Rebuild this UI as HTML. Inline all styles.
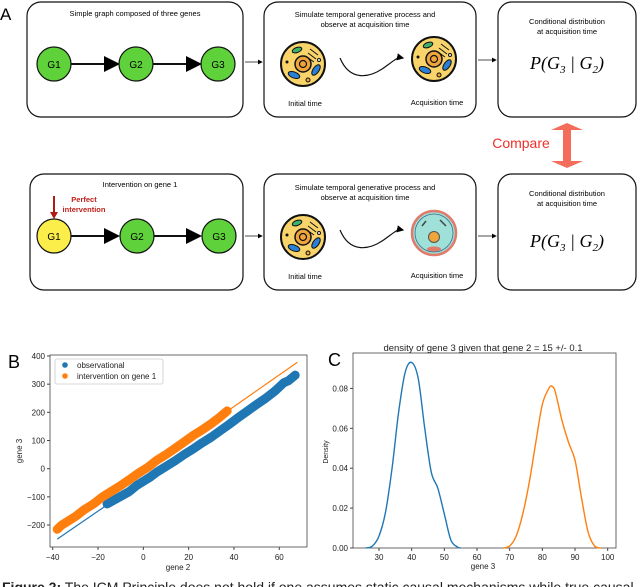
<!DOCTYPE html>
<html><head><meta charset="utf-8"><style>
html,body{margin:0;padding:0;background:#fff;}
svg{display:block;font-family:"Liberation Sans","DejaVu Sans",sans-serif;}
</style></head><body>
<svg id="fig" width="640" height="587" viewBox="0 0 640 587">
<defs>
<marker id="ah" markerWidth="8" markerHeight="8" refX="7" refY="4" orient="auto"><path d="M0,0 L8,4 L0,8z" fill="#000"/></marker>
<marker id="ahs" markerWidth="6" markerHeight="6" refX="5" refY="3" orient="auto"><path d="M0,0 L6,3 L0,6z" fill="#000"/></marker>
<g id="cellY">
<circle r="22" fill="#f9d46b" stroke="#111" stroke-width="2"/>
<circle r="8" fill="#f0a43c" stroke="#111" stroke-width="1.5"/><circle r="3.5" fill="#f0a43c" stroke="#111" stroke-width="1.2"/>
<ellipse cx="-6" cy="-14" rx="5" ry="2.5" fill="#3db06a" stroke="#111" stroke-width="1" transform="rotate(-20 -6 -14)"/>
<ellipse cx="-9" cy="11" rx="6" ry="3" fill="#2a7fd6" stroke="#111" stroke-width="1" transform="rotate(20 -9 11)"/>
<ellipse cx="13" cy="6" rx="6" ry="3" fill="#2a7fd6" stroke="#111" stroke-width="1" transform="rotate(-55 13 6)"/>
<path d="M7,-15 l8,6 M5,-11 l8,6 M4,-7 l7,5" stroke="#111" stroke-width="1"/>
<circle cx="-16" cy="-2" r="1.5" fill="#111"/><circle cx="5" cy="16" r="2" fill="#f0a43c" stroke="#111"/><circle cx="16" cy="-4" r="1.5" fill="#fff" stroke="#111"/>
</g>
</defs>

<text x="0" y="20" font-size="17">A</text>
<g>
<rect x="27" y="2" width="216" height="115" rx="14" fill="none" stroke="#111" stroke-width="1.2"/>
<text x="135" y="16" font-size="7.5" text-anchor="middle">Simple graph composed of three genes</text>
<line x1="71" y1="64" x2="118" y2="64" stroke="#111" stroke-width="2" marker-end="url(#ah)"/>
<line x1="153" y1="64" x2="200" y2="64" stroke="#111" stroke-width="2" marker-end="url(#ah)"/>
<circle cx="54" cy="64" r="17" fill="#5fd13a" stroke="#111" stroke-width="1.2"/>
<circle cx="136" cy="64" r="17" fill="#5fd13a" stroke="#111" stroke-width="1.2"/>
<circle cx="218" cy="64" r="17" fill="#5fd13a" stroke="#111" stroke-width="1.2"/>
<text x="54" y="68" font-size="10" text-anchor="middle">G1</text><text x="136" y="68" font-size="10" text-anchor="middle">G2</text><text x="218" y="68" font-size="10" text-anchor="middle">G3</text>
<line x1="245" y1="62" x2="262" y2="62" stroke="#111" stroke-width="0.8" marker-end="url(#ahs)"/>
<rect x="264" y="2" width="212" height="115" rx="14" fill="none" stroke="#111" stroke-width="1.2"/>
<text x="365" y="17" font-size="7.5" text-anchor="middle">Simulate temporal generative process and</text>
<text x="365" y="27" font-size="7.5" text-anchor="middle">observe at acquisition time</text>
<use href="#cellY" x="303" y="64"/><use href="#cellY" x="434" y="59"/>
<path d="M340,58 C350,82 370,78 385,67 S398,57 403,58" fill="none" stroke="#111" stroke-width="1.2" marker-end="url(#ahs)"/>
<text x="305" y="106" font-size="7.5" text-anchor="middle">Initial time</text>
<text x="437" y="105" font-size="7.5" text-anchor="middle">Acquisition time</text>
<line x1="478" y1="60" x2="496" y2="60" stroke="#111" stroke-width="0.8" marker-end="url(#ahs)"/>
<rect x="498" y="2" width="138" height="115" rx="14" fill="none" stroke="#111" stroke-width="1.2"/>
<text x="567" y="24" font-size="7.5" text-anchor="middle">Conditional distribution</text>
<text x="567" y="34" font-size="7.5" text-anchor="middle">at acquisition time</text>
<text x="567" y="69" font-size="18" text-anchor="middle" font-family="Liberation Serif,serif" font-style="italic">P(G<tspan font-size="11" dy="4">3</tspan><tspan dy="-4"> | G</tspan><tspan font-size="11" dy="4">2</tspan><tspan dy="-4">)</tspan></text>
</g>
<g>
<path d="M567,123 L583,130 L571,130 L571,161 L583,161 L567,168 L551,161 L563,161 L563,130 L551,130 Z" fill="#f46d5a"/>
<text x="521" y="148" font-size="14" fill="#f0302a" text-anchor="middle">Compare</text>
</g>
<g>
<rect x="30" y="174" width="213" height="116" rx="14" fill="none" stroke="#111" stroke-width="1.2"/>
<text x="140" y="187" font-size="7.5" text-anchor="middle">Intervention on gene 1</text>
<text x="84" y="202" font-size="7.5" fill="#c0201a" font-weight="bold" text-anchor="middle">Perfect</text>
<text x="84" y="212" font-size="7.5" fill="#c0201a" font-weight="bold" text-anchor="middle">intervention</text>
<line x1="54" y1="196" x2="54" y2="214" stroke="#b01c14" stroke-width="2"/><path d="M50,212 L54,219 L58,212z" fill="#b01c14"/>
<line x1="71" y1="236" x2="118" y2="236" stroke="#111" stroke-width="2" marker-end="url(#ah)"/>
<line x1="154" y1="236" x2="200" y2="236" stroke="#111" stroke-width="2" marker-end="url(#ah)"/>
<circle cx="54" cy="236" r="17" fill="#fbee4a" stroke="#111" stroke-width="1.2"/>
<circle cx="137" cy="236" r="17" fill="#5fd13a" stroke="#111" stroke-width="1.2"/>
<circle cx="219" cy="236" r="17" fill="#5fd13a" stroke="#111" stroke-width="1.2"/>
<text x="54" y="240" font-size="10" text-anchor="middle">G1</text><text x="137" y="240" font-size="10" text-anchor="middle">G2</text><text x="219" y="240" font-size="10" text-anchor="middle">G3</text>
<line x1="245" y1="236" x2="262" y2="236" stroke="#111" stroke-width="0.8" marker-end="url(#ahs)"/>
<rect x="264" y="174" width="212" height="116" rx="14" fill="none" stroke="#111" stroke-width="1.2"/>
<text x="365" y="190" font-size="7.5" text-anchor="middle">Simulate temporal generative process and</text>
<text x="365" y="200" font-size="7.5" text-anchor="middle">observe at acquisition time</text>
<use href="#cellY" x="303" y="237"/>
<g>
<circle cx="434" cy="233" r="22" fill="#9fe0d8" stroke="#e07a6a" stroke-width="2.5"/>
<circle cx="434" cy="233" r="19" fill="none" stroke="#3a6f8a" stroke-width="0.8"/>
<circle cx="434" cy="237" r="5.5" fill="#f0a43c" stroke="#555"/><ellipse cx="434" cy="249" rx="7" ry="2.5" fill="#e07a6a"/>
<path d="M440,220 l6,6 M426,221 l-4,5" stroke="#444" stroke-width="1.5"/>
</g>
<path d="M340,230 C350,254 370,250 385,239 S398,229 403,230" fill="none" stroke="#111" stroke-width="1.2" marker-end="url(#ahs)"/>
<text x="305" y="279" font-size="7.5" text-anchor="middle">Initial time</text>
<text x="437" y="278" font-size="7.5" text-anchor="middle">Acquisition time</text>
<line x1="478" y1="236" x2="496" y2="236" stroke="#111" stroke-width="0.8" marker-end="url(#ahs)"/>
<rect x="498" y="174" width="138" height="116" rx="14" fill="none" stroke="#111" stroke-width="1.2"/>
<text x="567" y="196" font-size="7.5" text-anchor="middle">Conditional distribution</text>
<text x="567" y="206" font-size="7.5" text-anchor="middle">at acquisition time</text>
<text x="567" y="247" font-size="18" text-anchor="middle" font-family="Liberation Serif,serif" font-style="italic">P(G<tspan font-size="11" dy="4">3</tspan><tspan dy="-4"> | G</tspan><tspan font-size="11" dy="4">2</tspan><tspan dy="-4">)</tspan></text>
</g>

<text x="8" y="368" font-size="18">B</text>
<g id="chartB"></g>
<text x="328" y="366" font-size="18">C</text>
<g id="chartC"></g>
<text x="2" y="592" font-size="14" fill="#222"><tspan font-weight="bold">Figure 2:</tspan> The ICM Principle does not hold if one assumes static causal mechanisms while true causal</text>
</svg>
<script>
// ---- Chart B data ----
const bXTicks=[-40,-20,0,20,40,60];
const bYTicks=[-200,-100,0,100,200,300,400];
const obsX=[-16,-7,-6,-3,0,3,6,10,14,18,22,26,30,34,38,42,46,50,54,58,60,62,64,67];
const obsY=[-125,-85,-80,-60,-45,-30,-12,8,28,50,70,92,112,135,158,182,205,228,250,275,290,305,312,332];
const intX=[-38,-36,-33,-30,-26,-22,-18,-14,-10,-6,-2,2,6,10,14,18,22,26,30,33,37];
const intY=[-215,-200,-185,-170,-145,-125,-100,-80,-60,-38,-15,5,30,50,72,95,118,138,160,178,205];
const obsLineX=[-38,68];const obsLineY=[-250,335];
const intLineX=[-38,68];const intLineY=[-218,378];
// ---- Chart C data ----
const cXTicks=[30,40,50,60,70,80,90,100];
const cYTicks=[0,0.02,0.04,0.06,0.08];
const blueX=[26,28,30,32,34,36,38,40,42,44,46,48,50,52,54,55];
const blueY=[0,0.001,0.006,0.018,0.04,0.068,0.088,0.093,0.085,0.06,0.038,0.03,0.017,0.004,0.0005,0];
const orangeX=[68,70,72,74,76,78,80,82,83,84,86,88,90,92,94,96,98];
const orangeY=[0,0.001,0.006,0.017,0.033,0.053,0.072,0.08,0.081,0.078,0.064,0.053,0.044,0.025,0.008,0.001,0];

const NS='http://www.w3.org/2000/svg';
function mk(p,t,a,txt){const e=document.createElementNS(NS,t);for(const k in a)e.setAttribute(k,a[k]);if(txt!==undefined)e.textContent=txt;p.appendChild(e);return e;}

(function(){
const g=document.getElementById('chartB');
const L=50,R=307,T=355,B=547;
const bx=v=>52.7+(v+40)*2.266, by=v=>356+(400-v)*0.2817;
let f=mk(g,'rect',{x:L,y:T,width:R-L,height:B-T,fill:'none',stroke:'#444','stroke-width':0.8});

bXTicks.forEach(v=>{mk(g,'line',{x1:bx(v),x2:bx(v),y1:B,y2:B+3,stroke:'#444'});
 const t=mk(g,'text',{x:bx(v),y:B+13,'font-size':8,'text-anchor':'middle',fill:'#222'},(v<0?'\u2212'+(-v):v));
 });
bYTicks.forEach(v=>{mk(g,'line',{x1:L-3,x2:L,y1:by(v),y2:by(v),stroke:'#444'});
 const t=mk(g,'text',{x:L-5,y:by(v)+3,'font-size':8,'text-anchor':'end',fill:'#222'},(v<0?'\u2212'+(-v):v));
 });
let xt=mk(g,'text',{x:178,y:570,'font-size':8,'text-anchor':'middle',fill:'#222'},'gene 2');

let yt=mk(g,'text',{x:22,y:451,'font-size':8,'text-anchor':'middle',fill:'#222',transform:'rotate(-90 22 451)'},'gene 3');

function series(xs,ys,c,name){
 const pts=xs.map((x,i)=>bx(x)+','+by(ys[i])).join(' ');
 const pl=mk(g,'polyline',{points:pts,fill:'none',stroke:c,'stroke-width':9,'stroke-linecap':'round','stroke-linejoin':'round'});
 
 xs.forEach((x,i)=>{const c1=mk(g,'circle',{cx:bx(x),cy:by(ys[i]),r:3.2,fill:c});
 });
}
const ol=mk(g,'line',{x1:bx(obsLineX[0]),y1:by(obsLineY[0]),x2:bx(obsLineX[1]),y2:by(obsLineY[1]),stroke:'#1f77b4','stroke-width':1.2});

const il=mk(g,'line',{x1:bx(intLineX[0]),y1:by(intLineY[0]),x2:bx(intLineX[1]),y2:by(intLineY[1]),stroke:'#ff7f0e','stroke-width':1.2});

series(obsX,obsY,'#1f77b4','observational');
series(intX,intY,'#ff7f0e','intervention');
const lg=mk(g,'g',{});

mk(lg,'rect',{x:55,y:359,width:108,height:25,fill:'#fff',stroke:'#ccc','stroke-width':0.8,rx:2});
mk(lg,'circle',{cx:65,cy:365,r:2.8,fill:'#1f77b4'});
mk(lg,'text',{x:77,y:368,'font-size':8,fill:'#222'},'observational');
mk(lg,'circle',{cx:65,cy:376,r:2.8,fill:'#ff7f0e'});
mk(lg,'text',{x:77,y:379,'font-size':8,fill:'#222'},'intervention on gene 1');
})();

(function(){
const g=document.getElementById('chartC');
const L=353,R=616,T=353,B=548;
const cx=v=>379+(v-30)*3.267, cy=v=>548-v*1995;
let f=mk(g,'rect',{x:L,y:T,width:R-L,height:B-T,fill:'none',stroke:'#444','stroke-width':0.8});

let tt=mk(g,'text',{x:483,y:351,'font-size':9.5,'text-anchor':'middle',fill:'#222'},'density of gene 3 given that gene 2 = 15 +/- 0.1');

cXTicks.forEach(v=>{mk(g,'line',{x1:cx(v),x2:cx(v),y1:B,y2:B+3,stroke:'#444'});
 const t=mk(g,'text',{x:cx(v),y:B+12,'font-size':8,'text-anchor':'middle',fill:'#222'},v);
 });
cYTicks.forEach(v=>{mk(g,'line',{x1:L-3,x2:L,y1:cy(v),y2:cy(v),stroke:'#444'});
 const t=mk(g,'text',{x:L-5,y:cy(v)+3,'font-size':8,'text-anchor':'end',fill:'#222'},v.toFixed(2));
 });
let xt=mk(g,'text',{x:483,y:569,'font-size':8,'text-anchor':'middle',fill:'#222'},'gene 3');

let yt=mk(g,'text',{x:328,y:452,'font-size':7,'text-anchor':'middle',fill:'#222',transform:'rotate(-90 328 452)'},'Density');

function curve(xs,ys,c,name){
 const P=xs.map((x,i)=>[cx(x),cy(ys[i])]);
 let d='M'+P[0][0]+','+P[0][1];
 for(let i=0;i<P.length-1;i++){
  const p0=P[Math.max(0,i-1)],p1=P[i],p2=P[i+1],p3=P[Math.min(P.length-1,i+2)];
  const c1x=p1[0]+(p2[0]-p0[0])/6,c1y=p1[1]+(p2[1]-p0[1])/6;
  const c2x=p2[0]-(p3[0]-p1[0])/6,c2y=p2[1]-(p3[1]-p1[1])/6;
  d+=' C'+c1x+','+c1y+' '+c2x+','+c2y+' '+p2[0]+','+p2[1];
 }
 const p=mk(g,'path',{d:d,fill:'none',stroke:c,'stroke-width':1.4});
 
}
curve(blueX,blueY,'#1f77b4','observational-density');
curve(orangeX,orangeY,'#ff7f0e','intervention-density');
})();
</script>
</body></html>
